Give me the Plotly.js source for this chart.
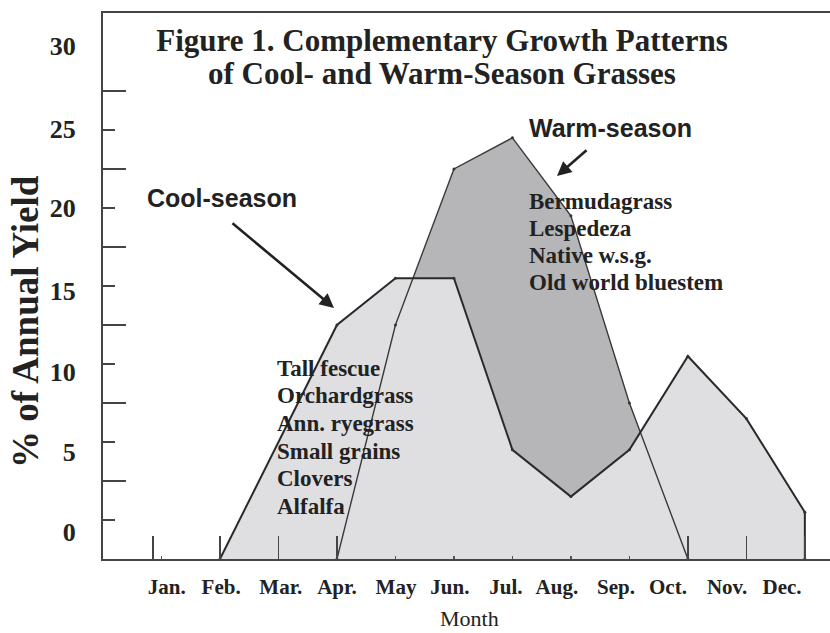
<!DOCTYPE html>
<html>
<head>
<meta charset="utf-8">
<script src="https://cdn.plot.ly/plotly-3.0.1.min.js"></script>
<style>html,body{margin:0;padding:0;background:#fff;}#chart{width:830px;height:633px;}</style>
</head>
<body>
<div id="chart"></div>
<script>
// ---- data ----
const months = ['Jan.', 'Feb.', 'Mar.', 'Apr.', 'May', 'Jun.', 'Jul.', 'Aug.', 'Sep.', 'Oct.', 'Nov.', 'Dec.'];
const coolMonths = ['Feb.', 'Apr.', 'May', 'Jun.', 'Jul.', 'Aug.', 'Sep.', 'Oct.', 'Nov.', 'Dec.', 'Dec.'];
const coolYield  = [0, 15, 18, 18, 7, 4, 7, 13, 9, 3, 0];
const warmMonths = ['Apr.', 'May', 'Jun.', 'Jul.', 'Aug.', 'Sep.', 'Oct.'];
const warmYield  = [0, 15, 25, 27, 22, 10, 0];
const yTickText  = ['0', '5', '10', '15', '20', '25', '30'];
const coolSpecies = ['Tall fescue', 'Orchardgrass', 'Ann. ryegrass', 'Small grains', 'Clovers', 'Alfalfa'];
const warmSpecies = ['Bermudagrass', 'Lespedeza', 'Native w.s.g.', 'Old world bluestem'];

// ---- layout helpers (positions as drawn in the original figure) ----
const monthIndex = m => months.indexOf(m) + 1;
const xLabelOffset = [0.09, 0.02, 0.04, 0.0, 0.01, -0.07, -0.11, -0.24, -0.23, -0.34, -0.33, -0.39];
const xLabelPos = months.map((m, i) => i + 1 + xLabelOffset[i]);
const yLabelPos = [1.73, 6.86, 12.0, 17.2, 22.5, 27.6, 32.9];
const xLongTicks = [0.855, 2, 3, 4, 10, 11, 12];
const xShortTicks = [1, 5, 6, 7, 8, 9];
const yLongTicks = [5, 10, 15, 20, 25, 30];
const yShortTicks = [2.5, 7.5, 12.5, 17.5, 22.5, 27.5];

const L = 103, T = 13, W = 727, H = 546;
const XR = [0, 12.43], YR = [0, 35];
const px2x = px => XR[0] + (px - L) / W * (XR[1] - XR[0]);
const py2y = py => YR[0] + (T + H - py) / H * (YR[1] - YR[0]);

const SERIF = 'Liberation Serif, Times New Roman, serif';
const SANS = 'Liberation Sans, Arial, sans-serif';
const INK = '#222222';

const coolX = coolMonths.map(monthIndex);
const warmX = warmMonths.map(monthIndex);

const traces = [
  {x: warmX, y: warmYield, type: 'scatter', mode: 'none', fill: 'tozeroy',
   fillcolor: '#b6b6b9', hoverinfo: 'skip', name: 'Warm-season'},
  {x: coolX, y: coolYield, type: 'scatter', mode: 'none', fill: 'tozeroy',
   fillcolor: '#dfdfe1', hoverinfo: 'skip', name: 'Cool-season'},
  {x: warmX, y: warmYield, type: 'scatter', mode: 'lines+markers',
   line: {color: '#3a3a3a', width: 1.4}, marker: {size: 3, color: '#333'}, name: 'Warm-season'},
  {x: coolX, y: coolYield, type: 'scatter', mode: 'lines+markers',
   line: {color: '#2a2a2a', width: 2}, marker: {size: 3, color: '#333'}, name: 'Cool-season'},
  {x: [null], y: [null], xaxis: 'x2', yaxis: 'y2', type: 'scatter', mode: 'markers',
   hoverinfo: 'skip', showlegend: false}
];

const annotations = [];
// second title line
annotations.push({text: 'of Cool- and Warm-Season Grasses', xref: 'paper', yref: 'paper',
  x: (442 - L) / W, y: (T + H - 73) / H, xanchor: 'center', yanchor: 'middle', showarrow: false,
  font: {family: SERIF, size: 31, color: INK, weight: 'bold'}});
// y title
annotations.push({text: '<b>% of Annual Yield</b>', xref: 'paper', yref: 'paper', x: 0, xshift: -(L - 25),
  y: (T + H - 322) / H, xanchor: 'center', yanchor: 'middle', textangle: -90, showarrow: false,
  font: {family: SERIF, size: 37, color: INK}});
// x title
annotations.push({text: 'Month', xref: 'paper', yref: 'paper', x: (469 - L) / W, y: 0, yshift: -(618 - T - H),
  xanchor: 'center', yanchor: 'middle', showarrow: false, font: {family: SERIF, size: 22, color: INK}});
// season labels
annotations.push({text: '<b>Cool-season</b>', x: px2x(145), y: py2y(198), xanchor: 'left', yanchor: 'middle',
  showarrow: false, font: {family: SANS, size: 25, color: INK}});
annotations.push({text: '<b>Warm-season</b>', x: px2x(527), y: py2y(128), xanchor: 'left', yanchor: 'middle',
  showarrow: false, font: {family: SANS, size: 25, color: INK}});
// arrows
annotations.push({text: '', x: px2x(334), y: py2y(308), ax: 231 - 334, ay: 222 - 308, showarrow: true,
  arrowhead: 2, arrowsize: 1.1, arrowwidth: 2.6, arrowcolor: INK});
annotations.push({text: '', x: px2x(557), y: py2y(176), ax: 588 - 557, ay: 149 - 176, showarrow: true,
  arrowhead: 2, arrowsize: 1.1, arrowwidth: 2.6, arrowcolor: INK});
// species lists
coolSpecies.forEach((s, i) => annotations.push({text: '<b>' + s + '</b>', x: px2x(275), y: py2y(368 + i * 27.7),
  xanchor: 'left', yanchor: 'middle', showarrow: false, font: {family: SERIF, size: 23, color: INK}}));
warmSpecies.forEach((s, i) => annotations.push({text: '<b>' + s + '</b>', x: px2x(527), y: py2y(201 + i * 27.3),
  xanchor: 'left', yanchor: 'middle', showarrow: false, font: {family: SERIF, size: 23, color: INK}}));

const layout = {
  width: 830, height: 633,
  margin: {l: L, r: 830 - L - W, t: T, b: 633 - T - H},
  paper_bgcolor: '#ffffff', plot_bgcolor: '#ffffff',
  showlegend: false,
  title: {text: '<b>Figure 1. Complementary Growth Patterns</b>', xref: 'container', yref: 'container',
    x: 442 / 830, xanchor: 'center', y: 1 - 40 / 633, yanchor: 'middle',
    font: {family: SERIF, size: 31, color: INK}},
  xaxis: {range: XR, showgrid: false, zeroline: false, showline: true, mirror: true,
    linecolor: '#444', linewidth: 2, ticks: '', tickmode: 'array', tickvals: xLabelPos, ticktext: months,
    ticklabelstandoff: 8, tickfont: {family: SERIF, size: 21, color: INK, weight: 'bold'}, fixedrange: true},
  xaxis2: {range: XR, overlaying: 'x', anchor: 'y', side: 'bottom', showgrid: false, zeroline: false,
    showline: false, showticklabels: false, ticks: 'inside', tickmode: 'array', tickvals: xLongTicks,
    ticklen: 23, tickwidth: 1.5, tickcolor: '#444',
    minor: {tickmode: 'array', tickvals: xShortTicks, ticks: 'inside', ticklen: 3, tickwidth: 1.5, tickcolor: '#555', showgrid: false}},
  yaxis: {range: YR, showgrid: false, zeroline: false, showline: true, linecolor: '#444', linewidth: 2,
    ticks: '', tickmode: 'array', tickvals: yLabelPos, ticktext: yTickText, ticklabelstandoff: 20,
    tickfont: {family: SERIF, size: 26, color: INK, weight: 'bold'}, fixedrange: true},
  yaxis2: {range: YR, overlaying: 'y', anchor: 'x', side: 'left', showgrid: false, zeroline: false,
    showline: false, showticklabels: false, ticks: 'inside', tickmode: 'array', tickvals: yLongTicks,
    ticklen: 23, tickwidth: 1.5, tickcolor: '#444',
    minor: {tickmode: 'array', tickvals: yShortTicks, ticks: 'inside', ticklen: 12, tickwidth: 1.5, tickcolor: '#444', showgrid: false}},
  annotations: annotations
};

Plotly.newPlot('chart', traces, layout, {displayModeBar: false, staticPlot: true});
</script>
</body>
</html>
